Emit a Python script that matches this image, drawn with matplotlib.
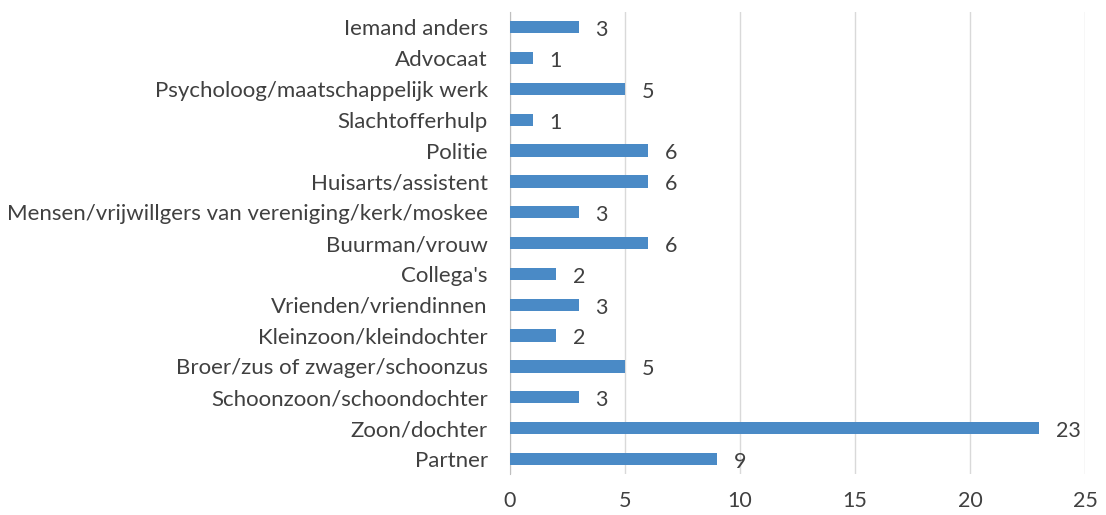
import matplotlib
matplotlib.use("Agg")
import matplotlib.pyplot as plt

categories = ["Partner", "Zoon/dochter", "Schoonzoon/schoondochter", "Broer/zus of zwager/schoonzus",
              "Kleinzoon/kleindochter", "Vrienden/vriendinnen", "Collega's", "Buurman/vrouw",
              "Mensen/vrijwillgers van vereniging/kerk/moskee", "Huisarts/assistent", "Politie",
              "Slachtofferhulp", "Psycholoog/maatschappelijk werk", "Advocaat", "Iemand anders"]
values = [9, 23, 3, 5, 2, 3, 2, 6, 3, 6, 6, 1, 5, 1, 3]
xticks = [0, 5, 10, 15, 20, 25]

plt.rcParams['font.family'] = ['Lato', 'DejaVu Sans']
fig = plt.figure(figsize=(11.06, 5.15), dpi=100)
ax = fig.add_axes([0.461, 0.079, 0.520, 0.898])
pos = list(range(len(categories)))
bars = ax.barh(pos, values, height=0.4, color='#4a8ac6', zorder=3)
for p, v in zip(pos, values):
    ax.annotate(str(v), (v, p), xytext=(12, -2), textcoords='offset points',
                ha='left', va='center', fontsize=15.5, color='#404040')
ax.set_xlim(0, 25)
ax.set_ylim(-0.5, len(categories) - 0.5)
ax.set_yticks(pos)
ax.set_yticklabels(categories, fontsize=16, color='#404040')
ax.set_xticks(xticks)
ax.set_xticklabels([str(t) for t in xticks], fontsize=15.5, color='#404040')
ax.tick_params(axis='y', length=0, pad=16)
ax.tick_params(axis='x', length=0, pad=12)
ax.grid(axis='x', color='#d9d9d9', linewidth=1, zorder=0)
for s in ['top', 'right', 'bottom']:
    ax.spines[s].set_visible(False)
ax.spines['left'].set_color('#bfbfbf')
fig.savefig('out.png', dpi=100)
